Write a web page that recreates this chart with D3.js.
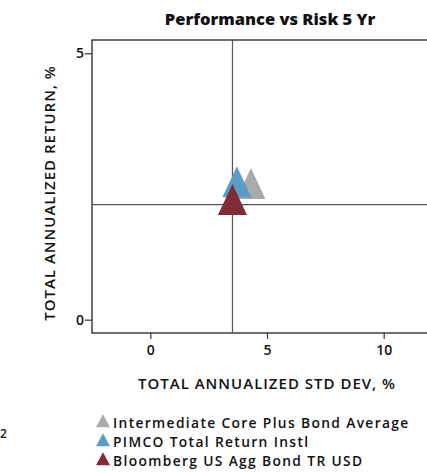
<!DOCTYPE html>
<html>
<head>
<meta charset="utf-8">
<script src="https://cdn.jsdelivr.net/npm/d3@7"></script>
<style>
  html, body { margin: 0; padding: 0; background: #fff; }
  svg { display: block; }
  text { font-family: "Open Sans", "DejaVu Sans", sans-serif; fill: #111; }
</style>
</head>
<body>
<svg id="chart" width="427" height="473"></svg>
<script>
// Series, in legend order
const seriesNames = ["Intermediate Core Plus Bond Average", "PIMCO Total Return Instl", "Bloomberg US Agg Bond TR USD"];
const seriesColors = ["#a9aaab", "#5a9ec6", "#822a36"];
const stdDev = [4.31, 3.71, 3.52];      // total annualized std dev, %
const returns = [2.46, 2.49, 2.16];     // total annualized return, %
// Benchmark crosshair (Bloomberg US Agg)
const benchStdDev = 3.52;
const benchReturn = 2.16;
const xTicks = [0, 5, 10];
const yTicks = [0, 5];

const svg = d3.select("#chart");
const plot = { left: 92, top: 40, right: 442, bottom: 333 };

const x = d3.scaleLinear().domain([-2.5, 12.5]).range([plot.left, plot.right]);
const y = d3.scaleLinear().domain([-0.25, 5.25]).range([plot.bottom, plot.top]);

// Title
svg.append("text")
  .attr("x", 270).attr("y", 25)
  .attr("text-anchor", "middle")
  .style("font-size", "16.5px").style("font-weight", "800")
  .text("Performance vs Risk 5 Yr");

// Plot frame
svg.append("rect")
  .attr("x", plot.left).attr("y", plot.top)
  .attr("width", plot.right - plot.left).attr("height", plot.bottom - plot.top)
  .attr("fill", "none").attr("stroke", "#222").attr("stroke-width", 1.3);

// Benchmark crosshair
svg.append("line")
  .attr("x1", x(benchStdDev)).attr("x2", x(benchStdDev))
  .attr("y1", plot.top).attr("y2", plot.bottom)
  .attr("stroke", "#555").attr("stroke-width", 1.2);
svg.append("line")
  .attr("x1", plot.left).attr("x2", plot.right)
  .attr("y1", y(benchReturn)).attr("y2", y(benchReturn))
  .attr("stroke", "#555").attr("stroke-width", 1.2);

// Axes
const xAxis = svg.append("g")
  .attr("transform", `translate(0,${plot.bottom})`)
  .call(d3.axisBottom(x).tickValues(xTicks).tickFormat(d3.format("d")).tickSize(6).tickPadding(6));
const yAxis = svg.append("g")
  .attr("transform", `translate(${plot.left},0)`)
  .call(d3.axisLeft(y).tickValues(yTicks).tickFormat(d3.format("d")).tickSize(7).tickPadding(1));
[xAxis, yAxis].forEach(g => {
  g.select(".domain").remove();
  g.selectAll(".tick line").attr("stroke", "#333").attr("stroke-width", 1.2);
  g.selectAll(".tick text").style("font-size", "14px").style("font-weight", "600")
    .style("font-family", "'Open Sans', sans-serif").attr("fill", "#111");
});

// Axis titles
svg.append("text")
  .attr("x", 267).attr("y", 389)
  .attr("text-anchor", "middle")
  .style("font-size", "15px").style("font-weight", "600").style("letter-spacing", "1px")
  .text("TOTAL ANNUALIZED STD DEV, %");
svg.append("text")
  .attr("transform", "translate(55,193) rotate(-90)")
  .attr("text-anchor", "middle")
  .style("font-size", "15px").style("font-weight", "600").style("letter-spacing", "1px")
  .text("TOTAL ANNUALIZED RETURN, %");

// Triangle path centred on its centroid
function triangle(w, h) {
  return `M0,${-2 * h / 3}L${w / 2},${h / 3}L${-w / 2},${h / 3}Z`;
}

// Points (drawn so the benchmark sits on top)
svg.append("g").selectAll("path")
  .data(d3.range(seriesNames.length))
  .join("path")
  .attr("d", triangle(29, 31))
  .attr("transform", i => `translate(${x(stdDev[i])},${y(returns[i])})`)
  .attr("fill", i => seriesColors[i]);

// Legend
const legend = svg.append("g");
const rows = legend.selectAll("g")
  .data(d3.range(seriesNames.length))
  .join("g")
  .attr("transform", i => `translate(0,${428 + i * 19})`);
rows.append("path")
  .attr("d", triangle(14, 13))
  .attr("transform", "translate(103,-5)")
  .attr("fill", i => seriesColors[i]);
rows.append("text")
  .attr("x", 113).attr("y", 0)
  .style("font-size", "13.8px").style("font-weight", "600").style("letter-spacing", "1.35px")
  .text(i => seriesNames[i]);

// Stray glyph at the left edge
svg.append("text")
  .attr("x", 0).attr("y", 438)
  .style("font-size", "12px").style("font-weight", "600")
  .text("2");
</script>
</body>
</html>
